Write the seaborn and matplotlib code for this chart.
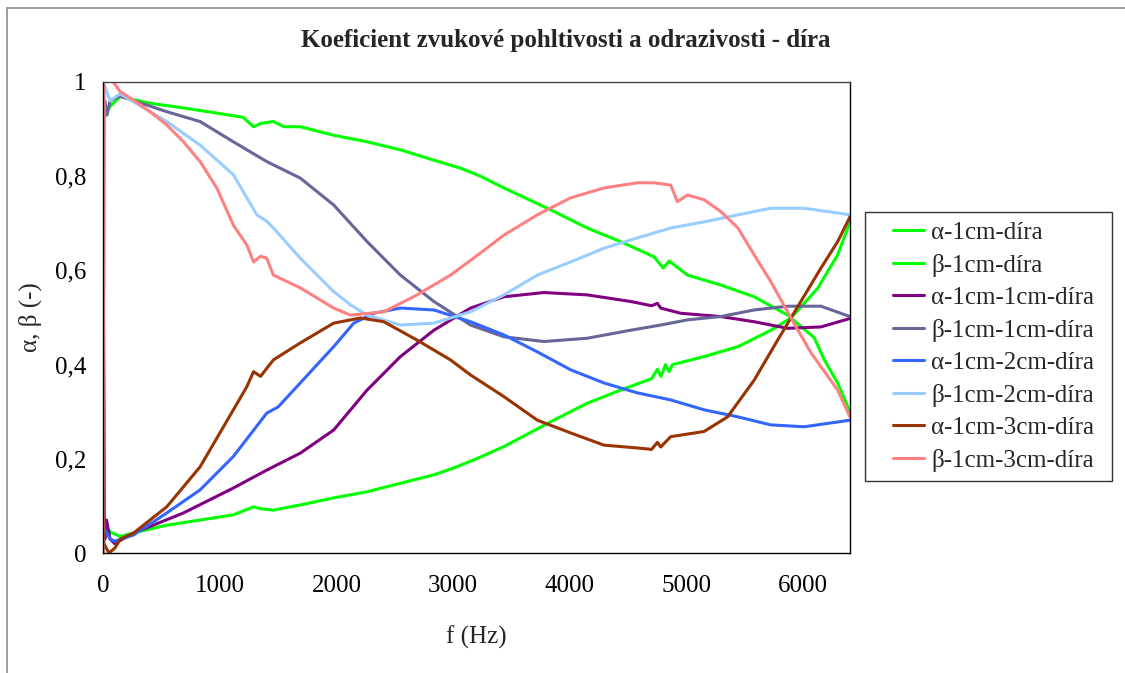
import numpy as np
import pandas as pd
import seaborn as sns
import matplotlib
matplotlib.use("Agg")
import matplotlib.pyplot as plt
from matplotlib.lines import Line2D
from matplotlib.patches import Rectangle
from matplotlib.legend_handler import HandlerLine2D

# ---------------- data ----------------
names = ["α-1cm-díra", "β-1cm-díra", "α-1cm-1cm-díra", "β-1cm-1cm-díra",
         "α-1cm-2cm-díra", "β-1cm-2cm-díra", "α-1cm-3cm-díra", "β-1cm-3cm-díra"]
colors = ["#00FF00", "#00FF00", "#800080", "#666699",
          "#3366FF", "#99CCFF", "#993300", "#FF8080"]

f_a1 = [0, 8, 20, 60, 146, 300, 546, 832, 1117, 1290, 1350, 1460, 1690, 1976, 2263, 2548, 2835,
        3000, 3200, 3435, 3862, 4149, 4435, 4700, 4750, 4780, 4820, 4850, 4880, 5150, 5440, 5722,
        5894, 6123, 6294, 6400]
v_a1 = [1.0, 0.08, 0.06, 0.045, 0.035, 0.045, 0.059, 0.070, 0.081, 0.098, 0.094, 0.091, 0.102,
        0.117, 0.130, 0.148, 0.166, 0.180, 0.200, 0.226, 0.282, 0.318, 0.346, 0.37, 0.39, 0.375,
        0.40, 0.385, 0.40, 0.417, 0.438, 0.473, 0.499, 0.562, 0.633, 0.703]

f_b1 = [0, 8, 20, 60, 146, 403, 689, 975, 1200, 1290, 1350, 1460, 1550, 1690, 1976, 2263, 2548,
        2835, 3063, 3234, 3435, 3806, 4149, 4435, 4720, 4800, 4850, 5008, 5293, 5579, 5866, 6094,
        6180, 6294, 6400]
v_b1 = [0.0, 0.92, 0.93, 0.948, 0.969, 0.955, 0.945, 0.934, 0.925, 0.905, 0.912, 0.916, 0.905,
        0.905, 0.887, 0.873, 0.856, 0.834, 0.817, 0.800, 0.775, 0.732, 0.690, 0.661, 0.629, 0.605,
        0.620, 0.590, 0.569, 0.544, 0.505, 0.457, 0.410, 0.361, 0.300]

f_a2 = [0, 8, 16, 30, 60, 100, 260, 689, 1117, 1403, 1690, 1976, 2263, 2548, 2835, 3149, 3435,
        3778, 4149, 4521, 4700, 4750, 4778, 4950, 5293, 5579, 5866, 6151, 6400]
v_a2 = [1.0, 0.05, 0.03, 0.07, 0.03, 0.02, 0.042, 0.085, 0.138, 0.176, 0.212, 0.261, 0.346, 0.417,
        0.473, 0.520, 0.544, 0.553, 0.548, 0.534, 0.525, 0.530, 0.520, 0.509, 0.502, 0.491, 0.477,
        0.480, 0.498]

f_b2 = [0, 8, 16, 35, 60, 146, 546, 832, 1117, 1403, 1690, 1976, 2263, 2548, 2835, 3149, 3435,
        3778, 4149, 4521, 4778, 5008, 5293, 5579, 5866, 6151, 6400]
v_b2 = [0.0, 0.95, 0.96, 0.93, 0.96, 0.97, 0.937, 0.916, 0.873, 0.831, 0.796, 0.739, 0.661, 0.590,
        0.534, 0.484, 0.459, 0.449, 0.456, 0.473, 0.484, 0.495, 0.502, 0.516, 0.524, 0.524, 0.502]

f_a3 = [0, 8, 16, 60, 100, 260, 546, 832, 1117, 1403, 1500, 1690, 1976, 2148, 2320, 2548, 2835,
        3149, 3435, 3721, 4006, 4292, 4578, 4864, 5150, 5440, 5722, 6008, 6400]
v_a3 = [1.0, 0.06, 0.05, 0.03, 0.025, 0.038, 0.085, 0.134, 0.205, 0.297, 0.31, 0.361, 0.438, 0.488,
        0.509, 0.520, 0.516, 0.491, 0.463, 0.427, 0.389, 0.361, 0.340, 0.325, 0.304, 0.289, 0.272,
        0.268, 0.282]

f_b3 = [0, 8, 16, 60, 146, 546, 832, 1117, 1318, 1400, 1460, 1690, 1976, 2120, 2263, 2548, 2835,
        3149, 3435, 3721, 4006, 4292, 4578, 4864, 5150, 5440, 5722, 6008, 6400]
v_b3 = [0.0, 0.98, 0.99, 0.96, 0.975, 0.916, 0.866, 0.803, 0.718, 0.705, 0.690, 0.626, 0.555, 0.527,
        0.505, 0.484, 0.488, 0.512, 0.548, 0.590, 0.618, 0.647, 0.669, 0.690, 0.703, 0.718, 0.732,
        0.732, 0.718]

f_a4 = [0, 8, 50, 100, 150, 260, 546, 832, 1117, 1232, 1290, 1350, 1403, 1460, 1690, 1976, 2205,
        2406, 2691, 2977, 3149, 3435, 3721, 4006, 4292, 4578, 4700, 4750, 4778, 4864, 5150, 5351,
        5579, 5780, 5894, 6151, 6294, 6400]
v_a4 = [1.0, 0.02, 0.0, 0.01, 0.03, 0.042, 0.098, 0.183, 0.304, 0.353, 0.385, 0.375, 0.392, 0.410,
        0.446, 0.488, 0.499, 0.491, 0.452, 0.410, 0.378, 0.332, 0.282, 0.255, 0.229, 0.223, 0.22,
        0.235, 0.225, 0.247, 0.258, 0.289, 0.367, 0.452, 0.499, 0.605, 0.661, 0.714]

f_b4 = [0, 8, 60, 146, 260, 403, 546, 689, 832, 975, 1117, 1232, 1290, 1350, 1403, 1460, 1690, 1976,
        2120, 2406, 2691, 2977, 3234, 3435, 3721, 4006, 4292, 4578, 4720, 4864, 4921, 5008, 5150,
        5293, 5440, 5579, 5722, 5894, 6066, 6294, 6400]
v_b4 = [0.0, 1.01, 1.01, 0.98, 0.962, 0.937, 0.909, 0.873, 0.831, 0.775, 0.696, 0.654, 0.618, 0.630,
        0.626, 0.590, 0.563, 0.520, 0.505, 0.512, 0.548, 0.590, 0.637, 0.675, 0.718, 0.754, 0.775,
        0.786, 0.786, 0.781, 0.746, 0.760, 0.750, 0.725, 0.690, 0.633, 0.576, 0.499, 0.425, 0.346,
        0.289]

x_ticks = [0, 1000, 2000, 3000, 4000, 5000, 6000]
y_ticks = [0, 0.2, 0.4, 0.6, 0.8, 1.0]
y_ticklabels = ["0", "0,2", "0,4", "0,6", "0,8", "1"]
title = "Koeficient zvukové pohltivosti a odrazivosti - díra"
xlabel = "f (Hz)"
ylabel = "α, β (-)"

series = [(f_a1, v_a1), (f_b1, v_b1), (f_a2, v_a2), (f_b2, v_b2),
          (f_a3, v_a3), (f_b3, v_b3), (f_a4, v_a4), (f_b4, v_b4)]
frames = []
for name, (fx, vy) in zip(names, series):
    frames.append(pd.DataFrame({"f": fx, "v": vy, "series": name}))
df = pd.concat(frames, ignore_index=True)

# ---------------- style ----------------
sns.set_theme(style="white")
plt.rcParams["font.family"] = ["Liberation Serif", "DejaVu Serif"]
FS = 18

W, H = 1125, 673
fig = plt.figure(figsize=(W / 100, H / 100), dpi=100)
ax = fig.add_axes([103 / W, 1 - 553 / H, (850 - 103) / W, (553 - 82) / H])

sns.lineplot(data=df, x="f", y="v", hue="series", hue_order=names,
             palette=dict(zip(names, colors)), sort=False, estimator=None,
             linewidth=2.2, ax=ax, legend=True)
handles, labels = ax.get_legend_handles_labels()
ax.get_legend().remove()

ax.set_xlim(0, 6400)
ax.set_ylim(0, 1)
ax.set_xticks(x_ticks)
ax.set_xticklabels([str(t) for t in x_ticks])
ax.set_yticks(y_ticks)
ax.set_yticklabels(y_ticklabels)
ax.tick_params(axis="both", direction="in", length=6, width=1, colors="black",
               labelsize=FS, labelcolor="black")
ax.tick_params(axis="x", pad=16)
ax.tick_params(axis="y", pad=12)
for s in ax.spines.values():
    s.set_color("black")
    s.set_linewidth(1)
ax.spines["top"].set_color("#444444")

ax.set_xlabel(xlabel, fontsize=FS, va="center")
ax.xaxis.set_label_coords(0.5, (553 - 637) / 471)
ax.set_ylabel(ylabel, fontsize=FS, va="center")
ax.yaxis.set_label_coords((30 - 103) / 747, 0.5)

fig.text(566 / W, 1 - 41 / H, title, ha="center", va="center",
         fontsize=18, fontweight="bold")

# chart-area border
fig.patches.append(Rectangle((7 / W, -0.05), 1.2, (1 - 8 / H) + 0.05,
                             transform=fig.transFigure, fill=False,
                             edgecolor="#8c8c8c", linewidth=1.2))


class RightLine(HandlerLine2D):
    def __init__(self, frac, **kw):
        super().__init__(**kw)
        self.frac = frac

    def get_xdata(self, legend, xdescent, ydescent, width, height, fontsize):
        xd, xm = super().get_xdata(legend, xdescent, ydescent, width, height, fontsize)
        x1 = -xdescent + width
        x0 = x1 - width * self.frac
        return np.array([x0, x1]), xm


leg = fig.legend(handles, labels, loc="upper left",
                 bbox_to_anchor=(865 / W, 1 - 477 / H, 247 / W, 265 / H),
                 mode="expand", borderaxespad=0, borderpad=0.38,
                 handlelength=1.98, handletextpad=0.28, labelspacing=0.39,
                 frameon=True, fancybox=False, edgecolor="black",
                 handler_map={Line2D: RightLine(0.63)},
                 prop={"family": "Liberation Serif", "size": FS})
leg.get_frame().set_linewidth(1)
for ln in leg.get_lines():
    ln.set_linewidth(2.2)

fig.savefig("out.png", dpi=100)
